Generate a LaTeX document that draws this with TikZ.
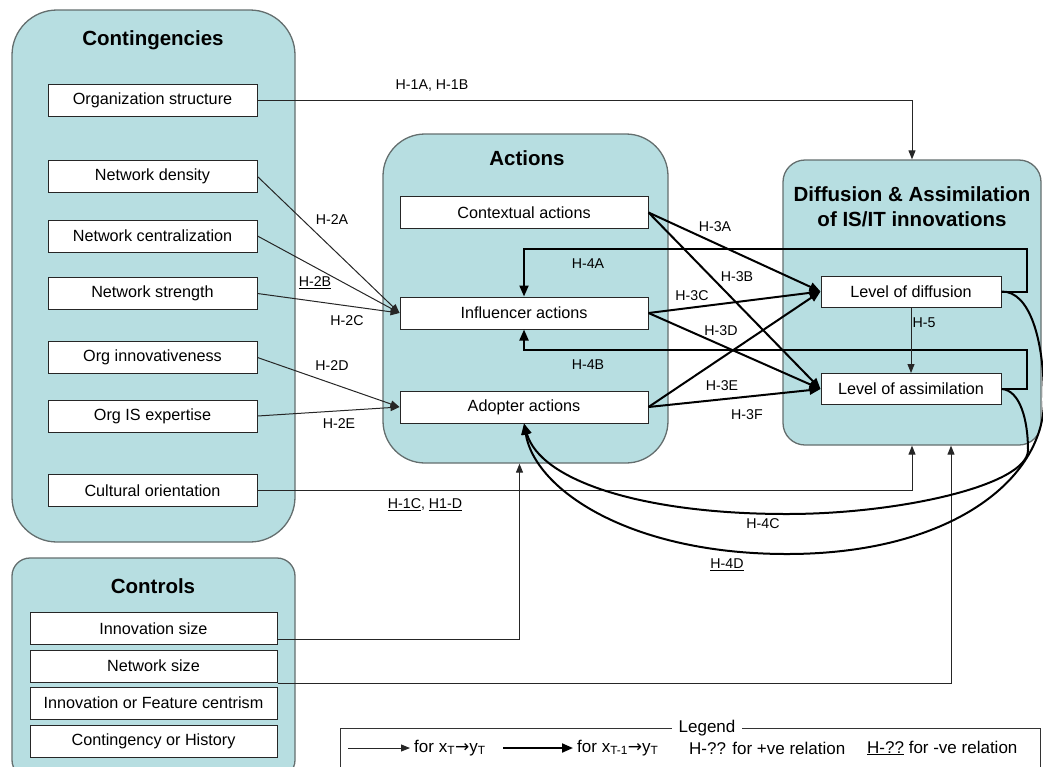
\documentclass[tikz,border=0pt]{standalone}
\usepackage{fontspec}
\setmainfont{Liberation Sans}
\newfontfamily\symfont{DejaVu Sans}
\usetikzlibrary{arrows.meta}
\definecolor{panel}{RGB}{183,222,225}
\definecolor{panelline}{RGB}{100,110,110}
\newcommand\bxfont{\fontsize{16.2}{19}\selectfont}
\newcommand\lbfont{\fontsize{14.2}{17}\selectfont}
\newcommand\ttlfont{\fontsize{20.5}{25}\selectfont\bfseries}
\newcommand\lgfont{\fontsize{17}{20}\selectfont}
\begin{document}
\begin{tikzpicture}[x=1pt,y=-1pt,
  panelbox/.style={draw=panelline, line width=1.3pt, fill=panel},
  itembox/.style={draw=black!85, line width=1pt, fill=white, inner sep=0pt, font=\bxfont, minimum height=32pt},
  contitem/.style={itembox, minimum width=209pt},
  ctrlitem/.style={itembox, minimum width=247pt},
  actitem/.style={itembox, minimum width=248pt},
  difitem/.style={itembox, minimum width=180pt, minimum height=31pt},
  title/.style={font=\ttlfont, align=center},
  lab/.style={font=\lbfont, inner sep=1pt},
  thinarrow/.style={draw=black!85, line width=1pt, -{Triangle[length=9pt,width=7pt]}},
  thickarrow/.style={draw=black, line width=2pt, -{Triangle[length=11pt,width=9pt]}},
]
\useasboundingbox (0,0) rectangle (1043,766);
\clip (0,0) rectangle (1043,766);

% panels
\node[panelbox, rounded corners=45pt, minimum width=283pt, minimum height=532pt] (cont) at (153.5,276) {};
\node[panelbox, rounded corners=18pt, minimum width=283pt, minimum height=220pt] (ctrl) at (153.5,668) {};
\node[panelbox, rounded corners=42pt, minimum width=285pt, minimum height=329pt] (act) at (525.5,298.5) {};
\node[panelbox, rounded corners=22pt, minimum width=258pt, minimum height=285pt] (dif) at (912,302.5) {};

% panel titles
\node[title] (contT) at (153,40) {Contingencies};
\node[title] (ctrlT) at (153,586) {Controls};
\node[title] (actT) at (527,158) {Actions};
\node[title] (difT) at (912,207) {Diffusion \& Assimilation\\of IS/IT innovations};

% contingencies
\node[contitem] (os) at (152.5,100.5) {Organization structure};
\node[contitem] (nd) at (152.5,176.5) {Network density};
\node[contitem] (nc) at (152.5,236) {Network centralization};
\node[contitem] (ns) at (152.5,293.5) {Network strength};
\node[contitem] (oi) at (152.5,357.5) {Org innovativeness};
\node[contitem] (oe) at (152.5,416) {Org IS expertise};
\node[contitem] (co) at (152.5,490.5) {Cultural orientation};

% controls
\node[ctrlitem] (isz) at (153.5,628.5) {Innovation size};
\node[ctrlitem] (nsz) at (153.5,666) {Network size};
\node[ctrlitem] (ifc) at (153.5,703) {Innovation or Feature centrism};
\node[ctrlitem] (coh) at (153.5,741.5) {Contingency or History};

% actions
\node[actitem] (ca) at (524,212.5) {Contextual actions};
\node[actitem] (ia) at (524,313) {Influencer actions};
\node[actitem] (aa) at (524,407) {Adopter actions};

% outcomes
\node[difitem] (ld) at (911,291.5) {Level of diffusion};
\node[difitem] (la) at (911,389) {Level of assimilation};

% H-1: contingencies and controls to outcomes / actions
\draw[thinarrow] (os.east) -| (dif.north);
\draw[thinarrow] (co.east) -| (dif.south);
\draw[thinarrow] ([yshift=-10.5pt]isz.east) -| ([xshift=-6pt]act.south);
\draw[thinarrow] ([yshift=-17pt]nsz.east) -| ([xshift=39pt]dif.south);

% H-2: contingencies to actions
\draw[thinarrow] (nd.east) -- (ia.west);
\draw[thinarrow] (nc.east) -- (ia.west);
\draw[thinarrow] (ns.east) -- (ia.west);
\draw[thinarrow] (oi.east) -- (aa.west);
\draw[thinarrow] (oe.east) -- (aa.west);

% H-3: actions to outcomes
\draw[thickarrow] (ca.east) -- (ld.west);
\draw[thickarrow] (ca.east) -- (la.west);
\draw[thickarrow] (ia.east) -- (ld.west);
\draw[thickarrow] (ia.east) -- (la.west);
\draw[thickarrow] (aa.east) -- (ld.west);
\draw[thickarrow] (aa.east) -- (la.west);

% H-4A, H-4B: lagged feedback loops
\draw[thickarrow] (ld.east) -- (1027,291.5) -- (1027,249) -| (ia.north);
\draw[thickarrow] (la.east) -- (1027,389) -- (1027,350) -| (ia.south);

% H-4C, H-4D: lagged feedback to adopter actions
\draw[thickarrow] (la.east) .. controls (1020,390) and (1028,420) .. (1028,450)
  .. controls (1028,485) and (900,514) .. (787,514)
  .. controls (640,514) and (540,480) .. (aa.south);
\draw[thickarrow] (ld.east) .. controls (1030,291) and (1044,340) .. (1044,400)
  .. controls (1044,480) and (950,554) .. (787,554)
  .. controls (630,554) and (535,490) .. (aa.south);

% H-5
\draw[thinarrow] (ld.south) -- (la.north);

% hypothesis labels
\node[lab] (h1ab) at (432,86) {H-1A, H-1B};
\node[lab] (h1cd) at (425,505) {\underline{H-1C}, \underline{H1-D}};
\node[lab] (h2a) at (332,220) {H-2A};
\node[lab] (h2b) at (315,283) {\underline{H-2B}};
\node[lab] (h2c) at (347,321) {H-2C};
\node[lab] (h2d) at (332,366) {H-2D};
\node[lab] (h2e) at (339,424) {H-2E};
\node[lab] (h3a) at (715,227) {H-3A};
\node[lab] (h3b) at (737,277) {H-3B};
\node[lab] (h3c) at (692,296) {H-3C};
\node[lab] (h3d) at (721,331) {H-3D};
\node[lab] (h3e) at (722,386) {H-3E};
\node[lab] (h3f) at (747,415) {H-3F};
\node[lab] (h4a) at (588,264) {H-4A};
\node[lab] (h4b) at (588,365) {H-4B};
\node[lab] (h4c) at (763,524) {H-4C};
\node[lab] (h4d) at (727,565) {\underline{H-4D}};
\node[lab] (h5) at (924,323) {H-5};

% legend
\node[draw=black!80, line width=1pt, minimum width=700pt, minimum height=60pt, anchor=north west] (leg) at (340,728) {};
\node[fill=white, font=\lgfont, inner xsep=7pt, inner ysep=3pt] (legT) at (707,728) {Legend};
\coordinate (l1a) at (348,748);
\node[anchor=west, font=\lgfont, inner sep=1pt] (l1t) at (413,748) {for x\textsubscript{T}{\symfont →}y\textsubscript{T}};
\draw[thinarrow] (l1a) -- ([xshift=-3pt]l1t.west);
\coordinate (l2a) at (503,748);
\node[anchor=west, font=\lgfont, inner sep=1pt] (l2t) at (576,748) {for x\textsubscript{T-1}{\symfont →}y\textsubscript{T}};
\draw[thickarrow] (l2a) -- ([xshift=-3pt]l2t.west);
\node[anchor=west, font=\lgfont, inner sep=1pt] (l3t) at (688,748) {H-?? for +ve relation};
\node[anchor=west, font=\lgfont, inner sep=1pt] (l4t) at (866,748) {\underline{H-??} for -ve relation};
\end{tikzpicture}
\end{document}
